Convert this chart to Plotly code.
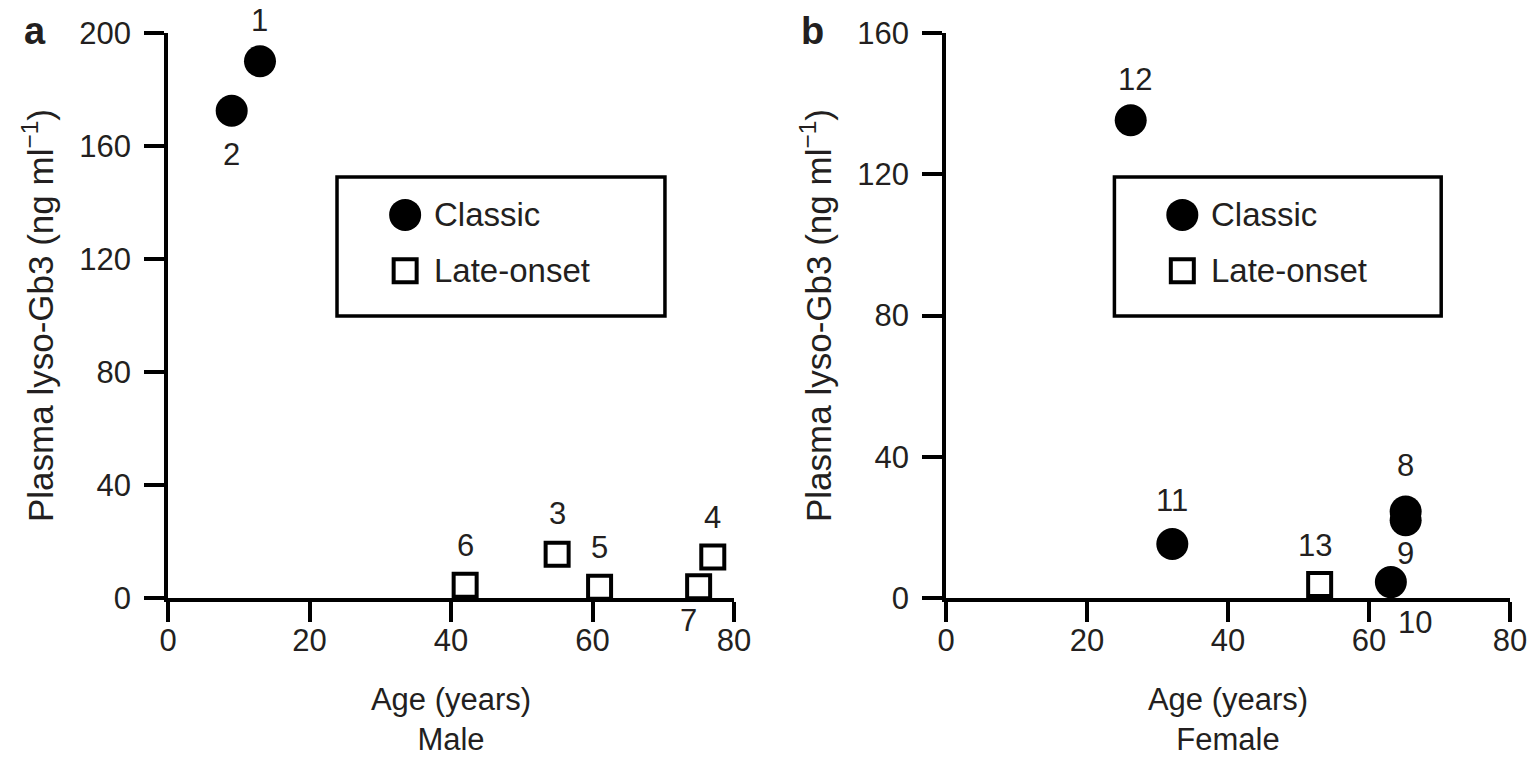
import plotly.graph_objects as go

# ---------------- data ----------------
# Panel a (Male)
male_classic_age = [13, 9]
male_classic_lyso = [190, 172.5]
male_classic_id = ["1", "2"]

male_late_age = [55, 77, 61, 42, 75]
male_late_lyso = [15.5, 14.5, 3.8, 4.5, 4.0]
male_late_id = ["3", "4", "5", "6", "7"]

# Panel b (Female)
female_classic_age = [65.2, 65.2, 63.1, 32.1, 26.2]
female_classic_lyso = [24.5, 22.0, 4.5, 15.3, 135.3]
female_classic_id = ["8", "9", "10", "11", "12"]

female_late_age = [53]
female_late_lyso = [3.8]
female_late_id = ["13"]

legend_labels = ["Classic", "Late-onset"]
x_ticks = [0, 20, 40, 60, 80]
y_ticks_a = [0, 40, 80, 120, 160, 200]
y_ticks_b = [0, 40, 80, 120, 160]

# label offsets (pixels) for each numbered point: (xshift, yshift)
label_shift = {
    "1": (0, 41), "2": (0, -44), "3": (0, 41), "4": (0, 40), "5": (0, 40),
    "6": (0, 40), "7": (-10, -34), "8": (0, 46), "9": (0, -33), "10": (24, -40),
    "11": (0, 43), "12": (4, 41), "13": (-5, 39),
}

FONT = "Liberation Sans, Arial, Helvetica, sans-serif"
TXT = "#231f20"
FS = 31

W, H = 1529, 761


def px_x(p):
    return p / W


def px_y(p):
    return 1 - p / H


fig = go.Figure()

circle = dict(symbol="circle", size=32, color="black", line=dict(width=0))
square = dict(symbol="square-open", size=23, color="black", line=dict(width=4, color="black"))

fig.add_trace(go.Scatter(x=male_classic_age, y=male_classic_lyso, mode="markers",
                         marker=circle, xaxis="x", yaxis="y", showlegend=False, cliponaxis=False))
fig.add_trace(go.Scatter(x=male_late_age, y=male_late_lyso, mode="markers",
                         marker=square, xaxis="x", yaxis="y", showlegend=False, cliponaxis=False))
fig.add_trace(go.Scatter(x=female_classic_age, y=female_classic_lyso, mode="markers",
                         marker=circle, xaxis="x2", yaxis="y2", showlegend=False, cliponaxis=False))
fig.add_trace(go.Scatter(x=female_late_age, y=female_late_lyso, mode="markers",
                         marker=square, xaxis="x2", yaxis="y2", showlegend=False, cliponaxis=False))

annotations = []
for xs, ys, ids, ax in [
    (male_classic_age, male_classic_lyso, male_classic_id, ""),
    (male_late_age, male_late_lyso, male_late_id, ""),
    (female_classic_age, female_classic_lyso, female_classic_id, "2"),
    (female_late_age, female_late_lyso, female_late_id, "2"),
]:
    for x, y, t in zip(xs, ys, ids):
        dx, dy = label_shift[t]
        annotations.append(dict(x=x, y=y, xref="x" + ax, yref="y" + ax, text=t,
                                showarrow=False, xshift=dx, yshift=dy,
                                font=dict(size=FS, color=TXT, family=FONT)))

# custom legend boxes (positions in axis-domain fractions)
box = dict(x0=0.2986, x1=0.878, y0=0.499, y1=0.745)
leg_x = 0.419
leg_y = [0.678, 0.579]
shapes = []
for ax, xr, yr in [("", 80, 200), ("2", 80, 160)]:
    shapes.append(dict(type="rect", xref="x" + ax + " domain", yref="y" + ax + " domain",
                       x0=box["x0"], x1=box["x1"], y0=box["y0"], y1=box["y1"],
                       line=dict(color="black", width=3.5), fillcolor="rgba(0,0,0,0)"))
    xa = "x" + ax
    ya = "y" + ax
    fig.add_trace(go.Scatter(x=[leg_x * xr], y=[leg_y[0] * yr], mode="markers", marker=circle,
                             xaxis=xa, yaxis=ya, showlegend=False, cliponaxis=False))
    fig.add_trace(go.Scatter(x=[leg_x * xr], y=[leg_y[1] * yr], mode="markers", marker=square,
                             xaxis=xa, yaxis=ya, showlegend=False, cliponaxis=False))
    for lab, ly in zip(legend_labels, leg_y):
        annotations.append(dict(x=leg_x + 0.047, y=ly, xref=xa + " domain", yref=ya + " domain",
                                text=lab, showarrow=False, xanchor="left", yanchor="middle",
                                font=dict(size=33, color=TXT, family=FONT)))

# panel letters
for letter, cx in [("a", 35), ("b", 812)]:
    annotations.append(dict(x=px_x(cx), y=px_y(31), xref="paper", yref="paper",
                            text="<b>" + letter + "</b>", xanchor="center", yanchor="middle",
                            showarrow=False, font=dict(size=38, color=TXT, family=FONT)))


def xaxis_cfg(domain, sex):
    return dict(domain=domain, range=[0, 80], tickvals=x_ticks, showline=True, linecolor="black",
                linewidth=3.5, ticks="outside", ticklen=20, tickwidth=3.5, tickcolor="black",
                showgrid=False, zeroline=False, ticklabelstandoff=-8,
                tickfont=dict(size=FS, color=TXT, family=FONT),
                title=dict(text="Age (years)<br>" + sex, standoff=32,
                           font=dict(size=FS, color=TXT, family=FONT)))


def yaxis_cfg(domain, rng, ticks):
    return dict(domain=domain, range=rng, tickvals=ticks, showline=True, linecolor="black",
                linewidth=3.5, ticks="outside", ticklen=20, tickwidth=3.5, tickcolor="black",
                showgrid=False, zeroline=False, ticklabelstandoff=7,
                tickfont=dict(size=FS, color=TXT, family=FONT),
                title=dict(text="Plasma lyso-Gb3 (ng ml<sup>−1</sup>)", standoff=16,
                           font=dict(size=35, color=TXT, family=FONT)))


ydom = [px_y(598), px_y(33)]
fig.update_layout(
    width=W, height=H,
    margin=dict(l=0, r=0, t=0, b=0),
    paper_bgcolor="white", plot_bgcolor="white",
    xaxis=xaxis_cfg([px_x(168), px_x(734)], "Male"),
    yaxis=yaxis_cfg(ydom, [0, 200], y_ticks_a),
    xaxis2=dict(xaxis_cfg([px_x(946), px_x(1510)], "Female"), anchor="y2"),
    yaxis2=dict(yaxis_cfg(ydom, [0, 160], y_ticks_b), anchor="x2"),
    annotations=annotations,
    shapes=shapes,
    showlegend=False,
)
fig.update_xaxes(automargin=False)
fig.update_yaxes(automargin=False)

fig.write_html("out.html", config={"displayModeBar": False},
               post_script="document.body.style.margin='0';document.body.style.overflow='hidden';")
